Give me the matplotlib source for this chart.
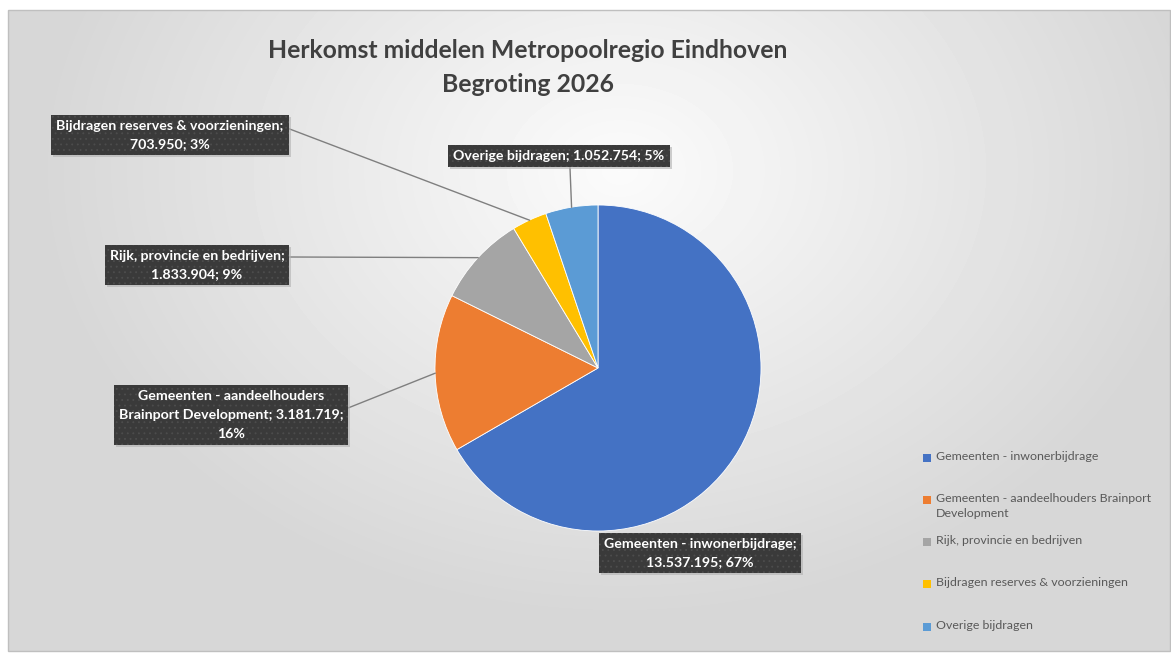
import textwrap
import numpy as np
import matplotlib.pyplot as plt
from matplotlib.patches import Rectangle

plt.rcParams['font.family'] = ['Lato', 'DejaVu Sans']
plt.rcParams['hatch.linewidth'] = 0.6

# data
categories = ['Gemeenten - inwonerbijdrage',
              'Gemeenten - aandeelhouders Brainport Development',
              'Rijk, provincie en bedrijven',
              'Bijdragen reserves & voorzieningen',
              'Overige bijdragen']
values = [13537195, 3181719, 1833904, 703950, 1052754]
colors = ['#4472C4', '#ED7D31', '#A5A5A5', '#FFC000', '#5B9BD5']
legend_labels = ['Gemeenten - inwonerbijdrage',
                 'Gemeenten - aandeelhouders Brainport\nDevelopment',
                 'Rijk, provincie en bedrijven',
                 'Bijdragen reserves & voorzieningen',
                 'Overige bijdragen']

W, H = 1171, 657
fig = plt.figure(figsize=(W / 100, H / 100), dpi=100)
ax = fig.add_axes([0, 0, 1, 1])
ax.set_xlim(0, W)
ax.set_ylim(0, H)
ax.axis('off')

# background: radial grey gradient inside chart area
x0, x1, yt, yb = 8, 1170, 10, 651
gx, gy = np.meshgrid(np.linspace(x0, x1, 300), np.linspace(yt, yb, 200))
d = np.sqrt(((gx - 620) / 650) ** 2 + ((gy - 170) / 500) ** 2)
g = np.clip(0.985 - 0.16 * d, 0.84, 1)
ax.imshow(g, cmap='gray', vmin=0, vmax=1, extent=(x0, x1, H - yb, H - yt),
          origin='upper', aspect='auto', zorder=0, interpolation='bilinear')
ax.add_patch(Rectangle((x0, H - yb), x1 - x0, yb - yt, fill=False,
                       edgecolor='#bfbfbf', lw=1, zorder=1))

# pie
cx, cy, r = 598, H - 368, 163
wedges, _ = ax.pie(values, colors=colors, startangle=90, counterclock=False,
                   center=(cx, cy), radius=r, frame=True,
                   wedgeprops=dict(edgecolor='white', linewidth=0.6))
ax.set_xlim(0, W)
ax.set_ylim(0, H)
ax.axis('off')

# title
ax.text(528, H - 51, 'Herkomst middelen Metropoolregio Eindhoven', ha='center',
        va='center', fontsize=17.8, fontweight='bold', color='#404040')
ax.text(528, H - 85, 'Begroting 2026', ha='center', va='center',
        fontsize=17.8, fontweight='bold', color='#404040')

# data labels
total = sum(values)
wrap = [28, 33, 29, 35, 40]
label_pos = [(700, 553), (231, 415), (197, 265), (170, 135), (559, 156)]
line_start = [None, (348, 408), (290, 257), (287, 128), (570, 168)]
for i, (name, v) in enumerate(zip(categories, values)):
    s = '%s; %s; %d%%' % (name, format(v, ',').replace(',', '.'),
                          round(100 * v / total))
    s = textwrap.fill(s, wrap[i])
    w = wedges[i]
    mid = np.deg2rad((w.theta1 + w.theta2) / 2)
    if line_start[i] is not None:
        ex, ey = cx + r * np.cos(mid), cy + r * np.sin(mid)
        sx, sy = line_start[i]
        ax.plot([sx, ex], [H - sy, ey], color='#7f7f7f', lw=1, zorder=2)
    lx, ly = label_pos[i]
    # shadow
    ax.text(lx + 2, H - ly - 2, s, ha='center', va='center', fontsize=10.2,
            fontweight='bold', color='none', linespacing=1.7, zorder=3,
            bbox=dict(boxstyle='square,pad=0.35', facecolor='#b0b0b0',
                      edgecolor='none', alpha=0.6))
    ax.text(lx, H - ly, s, ha='center', va='center', fontsize=10.2,
            fontweight='bold', color='white', linespacing=1.7, zorder=4,
            bbox=dict(boxstyle='square,pad=0.35', facecolor='#3a3a3a',
                      edgecolor='#4d4d4d', lw=0, hatch='...'))

# legend
for i, lab in enumerate(legend_labels):
    y = H - (457.5 + 42.3 * i)
    ax.add_patch(Rectangle((923, y - 4), 8, 8, facecolor=colors[i],
                           edgecolor='none', zorder=3))
    ax.text(936, y + 7, lab, ha='left', va='top', fontsize=8.9,
            color='#595959', linespacing=1.5, zorder=3)

fig.savefig('out.png', dpi=100)
